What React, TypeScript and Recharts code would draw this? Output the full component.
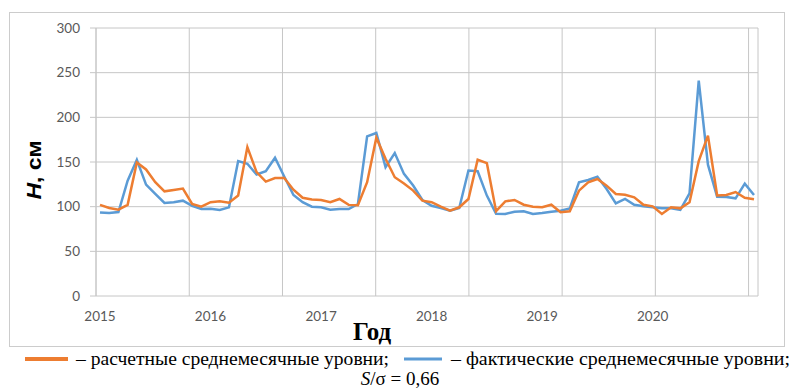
import { CartesianGrid, Line, LineChart, XAxis, YAxis } from "recharts";

const years = ["2015", "2016", "2017", "2018", "2019", "2020"];

// расчетные среднемесячные уровни, см (Jan 2015 .. Dec 2020)
const calculated = [
  102, 98.5, 96.6, 102, 149.5, 141.6, 127.4, 117.2, 118.7, 120.2, 103, 100,
  105, 106, 104.5, 112.4, 166.7, 138.6, 128, 132, 132, 119, 110, 108,
  107.5, 105, 108.6, 102, 101.5, 127.4, 177.2, 153.6, 133, 126, 118, 106.7,
  105, 100, 95.5, 99.3, 108.6, 152.5, 148.7, 95, 106, 107.5, 102.2, 100,
  99.3, 102.2, 93.7, 94.8, 117.9, 127.2, 131, 123.5, 114.2, 113.4, 110.4, 102.2,
  100.4, 91.8, 99.3, 98.1, 104.9, 151, 179.5, 112.5, 113, 116.4, 110, 108.2,
];

// фактические среднемесячные уровни, см
const actual = [
  93.6, 92.9, 94, 129, 152.5, 124.7, 114.2, 104.1, 104.9, 106.7, 101, 97.4,
  97.7, 96.2, 99.2, 151, 148, 136, 139.7, 154.7, 133.7, 113, 105, 100,
  99.3, 96.6, 97.4, 97.4, 103, 178.7, 182.5, 144.2, 160, 136.7, 123.6, 107.5,
  101, 98.5, 95.5, 98.5, 140.5, 139.7, 112.4, 92, 91.8, 94.4, 94.8, 91.8,
  92.9, 94.4, 95.5, 98.1, 127.2, 129.9, 133.6, 119.8, 103.7, 108.6, 102.2, 100.4,
  99.3, 98.1, 98.1, 96.3, 114.9, 241, 147, 111, 110.8, 109.3, 125.7, 113,
];

const yTicks = [0, 50, 100, 150, 200, 250, 300];

const data = calculated.map((v, i) => ({ idx: i, calculated: v, actual: actual[i] }));

const lastIdx = data.length - 1;
const yearTicks = years.map((_, k) => k * 12);
// vertical gridlines in the source are not aligned to whole months
const gridTicks = [1, 2, 3, 4, 5, 6, 7].map((k) => k * 10.12 - 0.43);

const GRID = "#c6c6c6";
const ORANGE = "#ed7d31";
const BLUE = "#5b9bd5";
const tickFont = { fill: "#595959", fontSize: 13.5, fontFamily: "Lato, 'Open Sans', sans-serif" };

export default function App() {
  return (
    <div style={{ position: "absolute", left: 0, top: 0, width: 792, height: 390, background: "#fff", overflow: "hidden" }}>
      <div
        style={{
          position: "absolute",
          left: 9,
          top: 12,
          width: 776,
          height: 335,
          border: "1px solid #cccccc",
          boxSizing: "border-box",
        }}
      />
      <div style={{ position: "absolute", left: 0, top: 0 }}>
        <LineChart width={792} height={390} data={data} margin={{ top: 28, right: 34, bottom: 0, left: 0 }}>
          <CartesianGrid stroke={GRID} xAxisId="g" />
          <XAxis
            xAxisId="g"
            dataKey="idx"
            type="number"
            domain={[0, lastIdx]}
            ticks={gridTicks}
            interval={0}
            tickFormatter={() => ""}
            tickSize={5}
            height={0}
            padding={{ left: 4, right: 4 }}
            stroke={GRID}
          />
          <XAxis
            xAxisId="y"
            dataKey="idx"
            type="number"
            domain={[0, lastIdx]}
            ticks={yearTicks}
            interval={0}
            tickFormatter={(v: number) => years[Math.round(v / 12)]}
            axisLine={false}
            tickLine={false}
            tickSize={0}
            tickMargin={15}
            height={94}
            padding={{ left: 4, right: 4 }}
            tick={tickFont}
          />
          <YAxis
            domain={[0, 300]}
            ticks={yTicks}
            interval={0}
            width={96}
            tickSize={6}
            tickMargin={10}
            stroke={GRID}
            tick={tickFont}
          />
          <Line
            xAxisId="g"
            type="linear"
            dataKey="actual"
            stroke={BLUE}
            strokeWidth={2.5}
            dot={false}
            isAnimationActive={false}
          />
          <Line
            xAxisId="g"
            type="linear"
            dataKey="calculated"
            stroke={ORANGE}
            strokeWidth={2.5}
            dot={false}
            isAnimationActive={false}
          />
        </LineChart>
      </div>
      <svg width={792} height={390} style={{ position: "absolute", left: 0, top: 0, pointerEvents: "none" }}>
        <text
          transform="translate(41,170) scale(0.85,1) rotate(-90)"
          textAnchor="middle"
          fontFamily="'Liberation Sans', Arial, sans-serif"
          fontWeight="bold"
          fontSize={23}
          fill="#000"
        >
          <tspan fontStyle="italic">H</tspan>, см
        </text>
        <text
          x={372}
          y={340}
          textAnchor="middle"
          fontFamily="'Liberation Serif', 'Times New Roman', serif"
          fontWeight="bold"
          fontSize={25}
          fill="#000"
        >
          Год
        </text>
        <line x1={25} y1={359} x2={68} y2={359} stroke={ORANGE} strokeWidth={4} />
        <text
          x={76}
          y={365}
          textLength={313}
          lengthAdjust="spacingAndGlyphs"
          fontFamily="'Liberation Serif', 'Times New Roman', serif"
          fontSize={19}
          fill="#000"
        >
          – расчетные среднемесячные уровни;
        </text>
        <line x1={404} y1={359} x2={442} y2={359} stroke={BLUE} strokeWidth={3} />
        <text
          x={451}
          y={365}
          textLength={339}
          lengthAdjust="spacingAndGlyphs"
          fontFamily="'Liberation Serif', 'Times New Roman', serif"
          fontSize={19}
          fill="#000"
        >
          – фактические среднемесячные уровни;
        </text>
        <text
          x={400}
          y={385}
          textAnchor="middle"
          fontFamily="'Liberation Serif', 'Times New Roman', serif"
          fontSize={19}
          fill="#000"
        >
          <tspan fontStyle="italic">S</tspan>/σ = 0,66
        </text>
      </svg>
    </div>
  );
}
